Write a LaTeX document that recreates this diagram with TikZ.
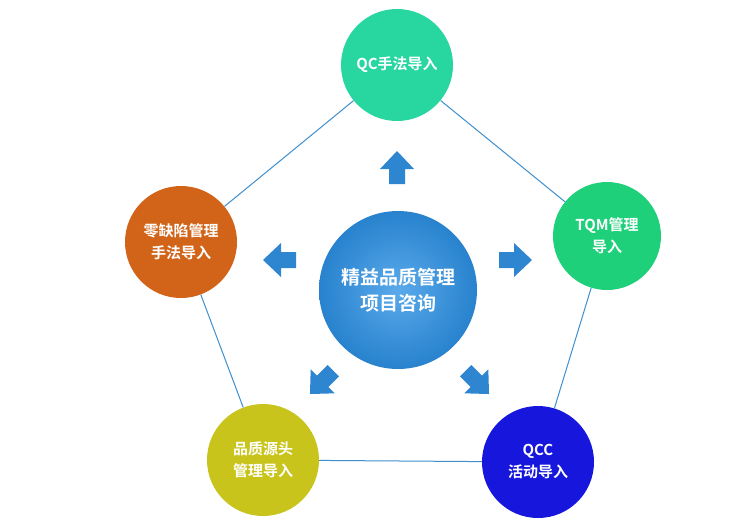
\documentclass[tikz,border=0pt]{standalone}
\usepackage{fontspec}
\newfontfamily\cjk{Noto Sans CJK SC}[BoldFont={* Bold}]
\usetikzlibrary{shadings}
\definecolor{lineblue}{HTML}{3F8FCF}
\definecolor{arrblue}{HTML}{2F86D0}
\tikzset{
  outer/.style={circle,minimum size=112pt,inner sep=0pt,text=white,align=center,font=\cjk\bfseries\fontsize{15}{22}\selectfont},
  link/.style={draw=lineblue,line width=1pt},
  pics/blockarrow/.style={code={\fill[arrblue] (-16,-8)--(-1,-8)--(-1,-17)--(17,0)--(-1,17)--(-1,8)--(-16,8)--cycle;}}
}
\begin{document}
\begin{tikzpicture}[x=1pt,y=-1pt]
\useasboundingbox[fill=white] (0,0) rectangle (751,528);
\node[outer,fill={rgb,255:red,40;green,214;blue,160}] (qc) at (397,65) {QC手法导入};
\node[outer,fill={rgb,255:red,30;green,208;blue,122},minimum size=108pt] (tqm) at (607,236) {TQM管理\\导入};
\node[outer,fill={rgb,255:red,210;green,100;blue,25}] (zd) at (181,242) {零缺陷管理\\手法导入};
\node[outer,fill={rgb,255:red,200;green,196;blue,28}] (src) at (263,460) {品质源头\\管理导入};
\node[outer,fill={rgb,255:red,22;green,22;blue,220}] (qcc) at (538,462) {QCC\\活动导入};
\draw[link] (qc)--(tqm) (tqm)--(qcc) (qcc)--(src) (src)--(zd) (zd)--(qc);
\node[circle,minimum size=158pt,inner sep=0pt,inner color={rgb,255:red,90;green,170;blue,235},outer color={rgb,255:red,40;green,130;blue,205},text=white,align=center,font=\cjk\bfseries\fontsize{19}{26}\selectfont] (core) at (398,290) {精益品质管理\\项目咨询};
\pic[rotate=90] at (397,168) {blockarrow};
\pic[rotate=180] at (280,260) {blockarrow};
\pic[rotate=0] at (515,260) {blockarrow};
\pic[rotate=225] at (322,382) {blockarrow};
\pic[rotate=-45] at (477,382) {blockarrow};
\end{tikzpicture}
\end{document}
